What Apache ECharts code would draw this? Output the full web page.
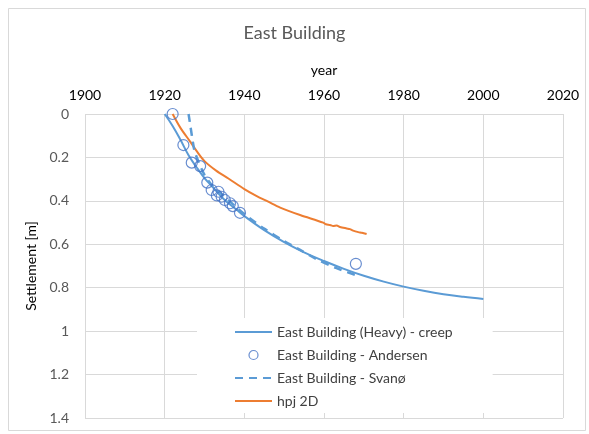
<!DOCTYPE html>
<html>
<head>
<meta charset="utf-8">
<script src="https://cdn.jsdelivr.net/npm/echarts@6/dist/echarts.min.js"></script>
<style>
  html, body { margin: 0; padding: 0; background: #fff; }
  #chart { width: 589px; height: 434px; }
</style>
</head>
<body>
<div id="chart"></div>
<script>
// Settlement of the East Building over time (year, settlement in m)
const creepYears = [1920, 1922, 1924, 1926, 1928, 1930, 1932, 1935, 1938, 1940, 1945, 1950, 1955, 1960, 1965, 1970, 1975, 1980, 1985, 1990, 1995, 2000];
const creepValues = [0.0, 0.055, 0.12, 0.19, 0.245, 0.295, 0.335, 0.395, 0.44, 0.47, 0.535, 0.59, 0.637, 0.677, 0.713, 0.745, 0.772, 0.795, 0.814, 0.83, 0.842, 0.852];

const andersenYears = [1922, 1924.7, 1926.8, 1928.9, 1930.7, 1931.8, 1933.5, 1933.1, 1934.3, 1935.1, 1936.4, 1937.1, 1938.9, 1968];
const andersenValues = [0.0, 0.143, 0.224, 0.24, 0.316, 0.35, 0.358, 0.375, 0.381, 0.396, 0.411, 0.424, 0.455, 0.69];

const svanoYears = [1926, 1926.5, 1927, 1927.5, 1928.5, 1930, 1932, 1935, 1938, 1941, 1945, 1950, 1954, 1958, 1963, 1968];
const svanoValues = [0.0, 0.06, 0.12, 0.17, 0.22, 0.28, 0.33, 0.38, 0.43, 0.475, 0.528, 0.585, 0.626, 0.667, 0.709, 0.742];

const hpjYears = [1922, 1924, 1926.4, 1928, 1930, 1933, 1936, 1940, 1943, 1946, 1949, 1954, 1959.8, 1960.5, 1961.5, 1962.3, 1963.2, 1964, 1965.7, 1966.5, 1967.3, 1968.6, 1969.5, 1970.7];
const hpjValues = [0.0, 0.065, 0.127, 0.17, 0.217, 0.262, 0.297, 0.346, 0.377, 0.404, 0.431, 0.465, 0.5, 0.508, 0.511, 0.516, 0.514, 0.52, 0.527, 0.53, 0.537, 0.544, 0.547, 0.553];

const xTicks = { min: 1900, max: 2020, step: 20 };
const yTicks = { min: 0, max: 1.4, step: 0.2 };

const pairs = (xs, ys) => xs.map((x, i) => [x, ys[i]]);

const BLUE = '#5B9BD5';
const CIRCLE = '#4472C4';
const ORANGE = '#ED7D31';
const TEXT = '#595959';
const GRID = '#d9d9d9';
const FONT = 'Lato, "Open Sans", sans-serif';

const chart = echarts.init(document.getElementById('chart'), null, { renderer: 'canvas' });

// line entries in the legend show only the stroke, no marker
const lineLegend = name => ({ name, itemStyle: { opacity: 0 } });

chart.setOption({
  backgroundColor: '#fff',
  animation: false,
  textStyle: { fontFamily: FONT },
  graphic: [{
    type: 'rect',
    left: 6, top: 6,
    shape: { width: 577, height: 422 },
    style: { fill: 'none', stroke: GRID, lineWidth: 1 },
    silent: true,
    z: -10
  }],
  title: {
    text: 'East Building',
    left: 'center',
    top: 19,
    textStyle: { fontFamily: FONT, fontSize: 18, fontWeight: 'normal', color: TEXT }
  },
  grid: { left: 85, top: 114, width: 478, height: 304, containLabel: false },
  xAxis: {
    type: 'value',
    position: 'top',
    min: xTicks.min, max: xTicks.max, interval: xTicks.step,
    name: 'year',
    nameLocation: 'middle',
    nameGap: 37,
    nameTextStyle: { fontFamily: FONT, fontSize: 14, color: '#000' },
    axisLine: { show: false },
    axisTick: { show: false },
    axisLabel: { fontFamily: FONT, fontSize: 14, color: '#000', margin: 12, formatter: v => String(v) },
    splitLine: { show: true, lineStyle: { color: GRID, width: 1 } }
  },
  yAxis: {
    type: 'value',
    inverse: true,
    min: yTicks.min, max: yTicks.max, interval: yTicks.step,
    name: 'Settlement [m]',
    nameLocation: 'middle',
    nameGap: 41,
    nameRotate: 90,
    nameTextStyle: { fontFamily: FONT, fontSize: 14, color: '#000' },
    axisLine: { show: false },
    axisTick: { show: false },
    axisLabel: { fontFamily: FONT, fontSize: 14, color: TEXT, margin: 16 },
    splitLine: { show: true, lineStyle: { color: GRID, width: 1 } }
  },
  legend: {
    orient: 'vertical',
    left: 197,
    top: 318,
    width: 298,
    height: 95,
    backgroundColor: '#fff',
    padding: [7, 40, 5, 37],
    itemWidth: 37,
    itemHeight: 9,
    itemGap: 9,
    textStyle: { fontFamily: FONT, fontSize: 14, color: '#404040' },
    data: [
      lineLegend('East Building (Heavy) - creep'),
      { name: 'East Building - Andersen', icon: 'circle',
        itemStyle: { color: 'rgba(0,0,0,0)', borderColor: CIRCLE, borderWidth: 1.2 } },
      lineLegend('East Building - Svanø'),
      lineLegend('hpj 2D')
    ],
    z: 10
  },
  series: [
    {
      name: 'East Building (Heavy) - creep',
      type: 'line',
      data: pairs(creepYears, creepValues),
      smooth: 0.4,
      symbol: 'none',
      lineStyle: { color: BLUE, width: 2 },
      itemStyle: { color: BLUE },
      z: 2
    },
    {
      name: 'East Building - Andersen',
      type: 'scatter',
      data: pairs(andersenYears, andersenValues),
      symbol: 'circle',
      symbolSize: 11,
      itemStyle: { color: 'rgba(0,0,0,0)', borderColor: CIRCLE, borderWidth: 1.2 },
      z: 4
    },
    {
      name: 'East Building - Svanø',
      type: 'line',
      data: pairs(svanoYears, svanoValues),
      smooth: 0.3,
      symbol: 'none',
      lineStyle: { color: BLUE, width: 2.5, type: [8, 6] },
      itemStyle: { color: BLUE },
      z: 3
    },
    {
      name: 'hpj 2D',
      type: 'line',
      data: pairs(hpjYears, hpjValues),
      smooth: 0.3,
      symbol: 'none',
      lineStyle: { color: ORANGE, width: 2 },
      itemStyle: { color: ORANGE },
      z: 2
    }
  ]
});
</script>
</body>
</html>
